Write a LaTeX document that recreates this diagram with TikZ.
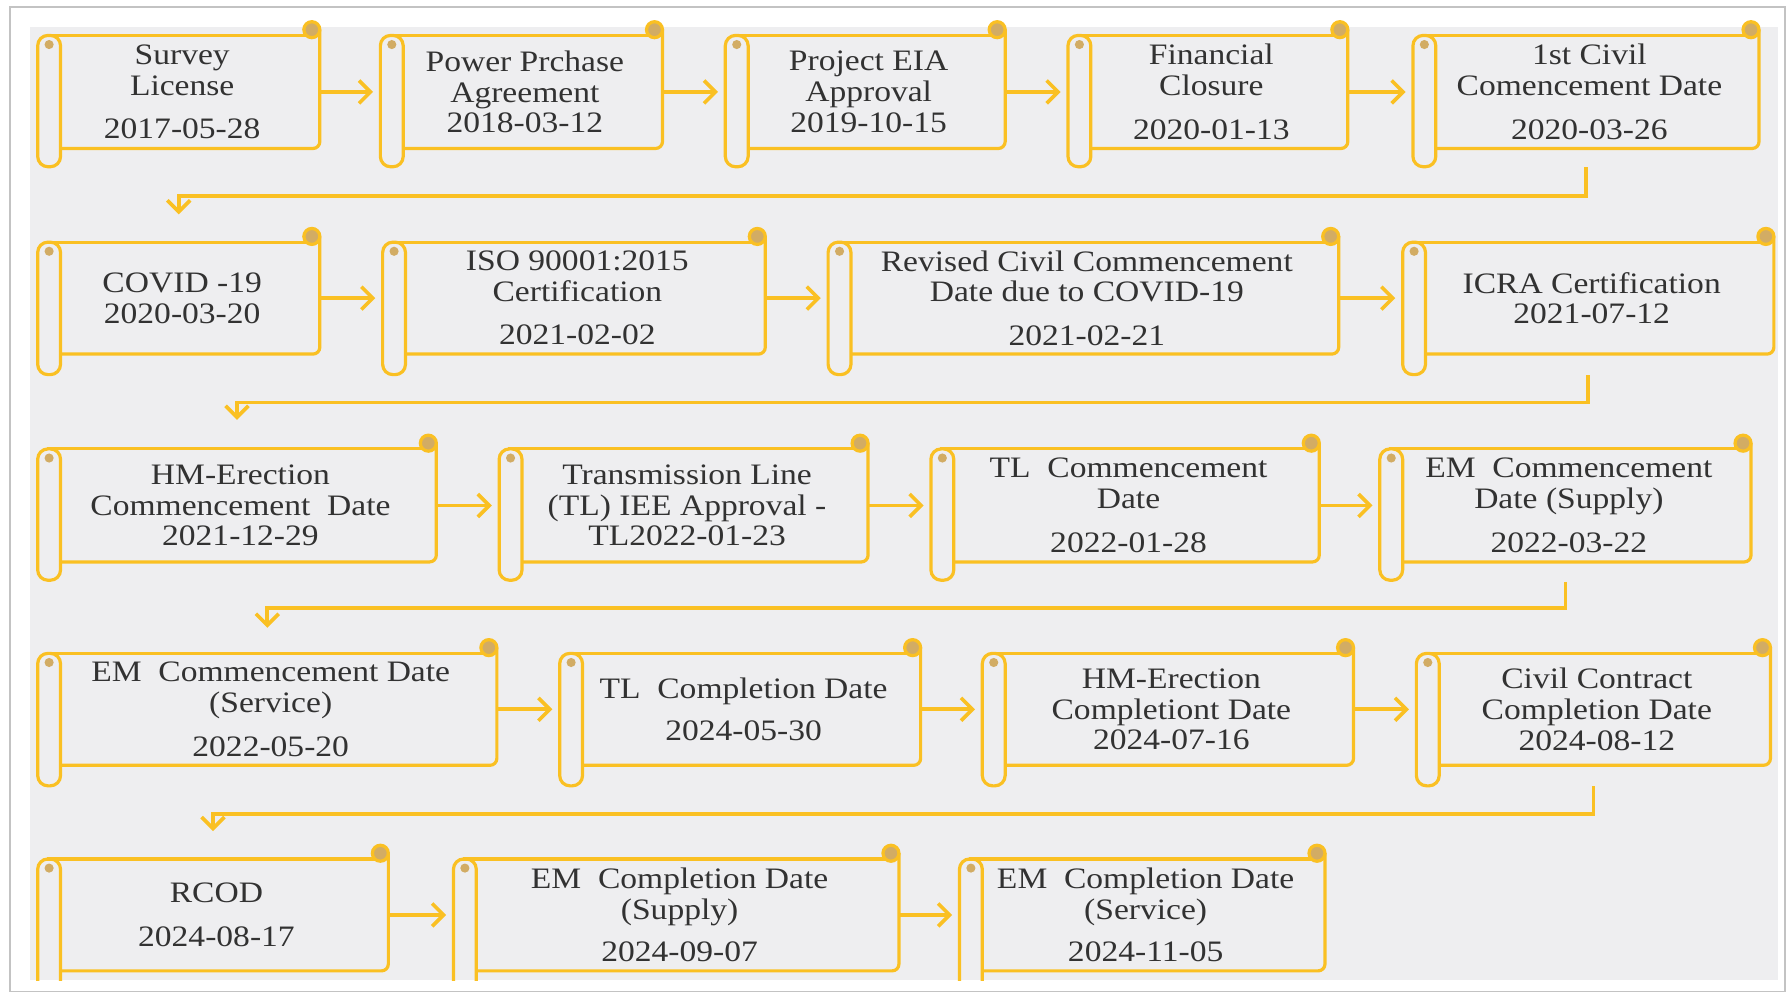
\documentclass[tikz,border=0pt]{standalone}
\usepackage{fontspec}
\setmainfont{Liberation Serif}[FakeStretch=1.13]
\usetikzlibrary{arrows.meta,calc}
\definecolor{gold}{RGB}{250,192,35}
\definecolor{knob}{RGB}{210,172,100}
\definecolor{panel}{RGB}{238,238,240}
\definecolor{framec}{RGB}{195,195,195}
\definecolor{ink}{RGB}{50,50,50}
\tikzset{
  sc/.style={draw=gold, line width=1.4pt},
  area/.style={draw=none, inner sep=0pt},
  txt/.style={text=ink, align=center, inner sep=0pt, font=\fontsize{13}{13.5}\selectfont},
  conn/.style={draw=gold, line width=1.6pt, -{Straight Barb[length=5pt,width=10pt]}},
}
% #1 name, #2 L, #3 R, #4 T, #5 B, #6 roll bottom, #7 text
\newcommand{\Scroll}[7]{%
  \draw[sc, rounded corners=4.5pt] (#2,#4) -- (#2,#6) -- ({#2+20},#6) -- ({#2+20},#4) -- cycle;
  \draw[sc, rounded corners=3pt] ({#2+20},#5) -- (#3,#5) -- (#3,{#4-5});
  \draw[sc] ({#2+8},#4) -- ({#3-6},#4);
  \filldraw[sc, fill=knob] ({#3-7},{#4-5}) circle[radius=3.5pt];
  \fill[knob] ({#2+10},{#4+8}) circle[radius=2pt];
  \node[area, minimum width={(#3-#2)*0.5pt}, minimum height={(#5-#4)*0.5pt}] (#1) at ({(#2+#3)/2},{(#4+#5)/2}) {};
  \node[txt] (#1t) at ($(#1.center)+(3,0)$) {#7};
}
\begin{document}
\begin{tikzpicture}[x=0.5pt,y=-0.5pt]
\useasboundingbox (0,0) rectangle (1568,871);
\fill[white] (0,0) rectangle (1568,871);
\draw[framec, line width=0.8pt] (9,6) rectangle (1563,868);
\fill[panel] (26,24) rectangle (1557,858);
\begin{scope}
\clip (26,0) rectangle (1557,858);
% Row 1
\Scroll{r1a}{33}{280}{31}{130}{146}{Survey\\License\\[5.5pt]2017-05-28}
\Scroll{r1b}{333}{580}{31}{130}{146}{Power Prchase\\Agreement\\2018-03-12}
\Scroll{r1c}{635}{880}{31}{130}{146}{Project EIA\\Approval\\2019-10-15}
\Scroll{r1d}{935}{1180}{31}{130}{146}{Financial\\Closure\\[5.5pt]2020-01-13}
\Scroll{r1e}{1237}{1540}{31}{130}{146}{1st Civil\\Comencement Date\\[5.5pt]2020-03-26}
% Row 2
\Scroll{r2a}{33}{280}{212}{310}{328}{COVID -19\\2020-03-20}
\Scroll{r2b}{335}{670}{212}{310}{328}{ISO 90001:2015\\Certification\\[5.5pt]2021-02-02}
\Scroll{r2c}{725}{1172}{212}{310}{328}{Revised Civil Commencement\\Date due to COVID-19\\[5.5pt]2021-02-21}
\Scroll{r2d}{1228}{1553}{212}{310}{328}{ICRA Certification\\2021-07-12}
% Row 3
\Scroll{r3a}{33}{382}{393}{492}{508}{HM-Erection\\Commencement\ \ Date\\2021-12-29}
\Scroll{r3b}{437}{760}{393}{492}{508}{Transmission Line\\(TL) IEE Approval -\\TL2022-01-23}
\Scroll{r3c}{815}{1155}{393}{492}{508}{TL\ \ Commencement\\Date\\[5.5pt]2022-01-28}
\Scroll{r3d}{1208}{1533}{393}{492}{508}{EM\ \ Commencement\\Date (Supply)\\[5.5pt]2022-03-22}
% Row 4
\Scroll{r4a}{33}{435}{572}{670}{688}{EM\ \ Commencement Date\\(Service)\\[5.5pt]2022-05-20}
\Scroll{r4b}{490}{806}{572}{670}{688}{TL\ \ Completion Date\\[5pt]2024-05-30}
\Scroll{r4c}{860}{1185}{572}{670}{688}{HM-Erection\\Completiont Date\\2024-07-16}
\Scroll{r4d}{1240}{1550}{572}{670}{688}{Civil Contract\\Completion Date\\2024-08-12}
% Row 5
\Scroll{r5a}{33}{340}{752}{850}{885}{RCOD\\[5.5pt]2024-08-17}
\Scroll{r5b}{397}{787}{752}{850}{885}{EM\ \ Completion Date\\(Supply)\\[5pt]2024-09-07}
\Scroll{r5c}{840}{1160}{752}{850}{885}{EM\ \ Completion Date\\(Service)\\[5pt]2024-11-05}
\end{scope}
% horizontal arrows
\foreach \a/\b in {r1a/r1b,r1b/r1c,r1c/r1d,r1d/r1e,
                   r2a/r2b,r2b/r2c,r2c/r2d,
                   r3a/r3b,r3b/r3c,r3c/r3d,
                   r4a/r4b,r4b/r4c,r4c/r4d,
                   r5a/r5b,r5b/r5c}
  \draw[conn, shorten >=3pt] (\a.east) -- (\b.west);
% row-to-row connectors
\draw[conn] ($(r1e.south)+(0,16)$) -- ($(r1e.south)+(0,41)$) -| ($(r2a.north)+(0,-24)$);
\draw[conn] ($(r2d.south)+(0,18)$) -- ($(r2d.south)+(0,42)$) -| ($(r3a.north)+(0,-25)$);
\draw[conn] ($(r3d.south)+(0,17)$) -- ($(r3d.south)+(0,40)$) -| ($(r4a.north)+(0,-22)$);
\draw[conn] ($(r4d.south)+(0,18)$) -- ($(r4d.south)+(0,42)$) -| ($(r5a.north)+(0,-24)$);
\end{tikzpicture}
\end{document}
